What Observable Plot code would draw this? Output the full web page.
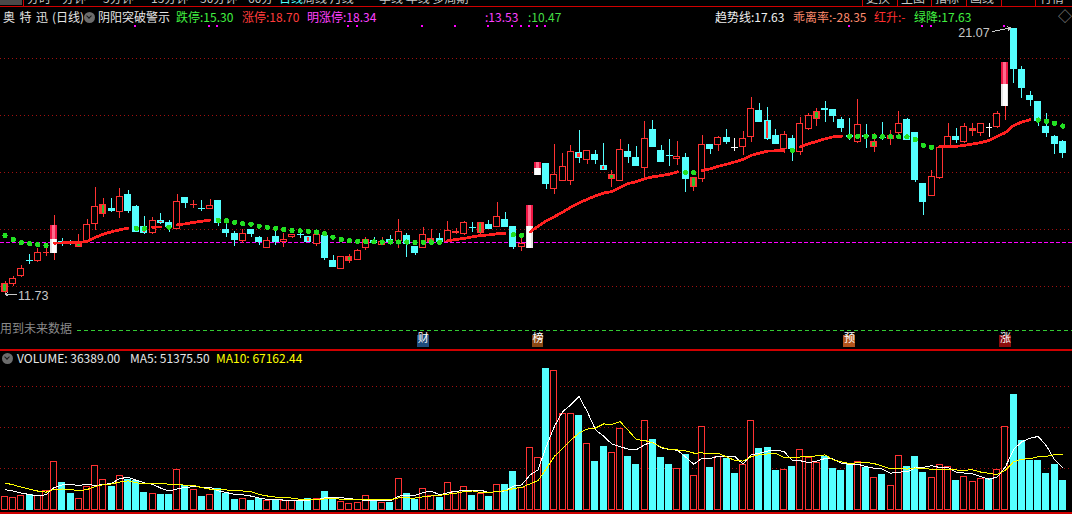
<!DOCTYPE html>
<html lang="zh-CN">
<head>
<meta charset="utf-8">
<title>奥特迅(日线)</title>
<script src="https://cdn.jsdelivr.net/npm/d3@7"></script>
<script src="https://cdn.jsdelivr.net/npm/@observablehq/plot@0.6"></script>
<style>
  html, body { margin: 0; padding: 0; background: #000; }
  #screen { position: relative; width: 1072px; height: 514px; overflow: hidden; background: #000;
    font-family: "Noto Sans CJK SC", "Noto Sans", sans-serif; font-size: 12px; line-height: 14px; }
  #screen svg { position: absolute; left: 0; }
  .t { position: absolute; white-space: nowrap; }
  .hline { position: absolute; left: 0; width: 1072px; background: #d00000; }
  .vline { position: absolute; top: 0; width: 1px; height: 6px; background: #d00000; }
  .icon { position: absolute; width: 11px; height: 11px; border-radius: 50%; background: #6c6c6c; }
  .icon::after { content: ""; position: absolute; left: 3.2px; top: 2.2px; width: 3px; height: 3px;
    border-right: 1.5px solid #161616; border-bottom: 1.5px solid #161616; transform: rotate(45deg); }
  #menu { position: absolute; left: 0; top: 0; width: 1072px; height: 6px; overflow: hidden; }
  #menu span { position: absolute; top: -9px; color: #c8c8c8; white-space: nowrap; }
</style>
</head>
<body>
<div id="screen">
  <div id="menu"></div>
  <div class="hline" style="top:6px;height:1px"></div>
  <div id="header"></div>
  <div class="t" id="future" style="left:0;top:321px;color:#8a8a8a;background:#000;padding-right:2px">用到未来数据</div>
  <div class="hline" style="top:349px;height:1.5px"></div>
  <div id="volHeader"></div>
  <div class="hline" style="top:512px;height:1.5px"></div>
</div>
<script>
// Daily bars, oldest first
const opens = [11.79,12.08,12.36,12.95,12.88,13.18,13.17,13.58,13.54,13.38,
  13.55,14.16,14.54,14.74,14.59,15.23,14.81,14.11,13.85,14.32,
  14.24,14.01,15.12,14.87,14.74,14.71,15.02,14.00,13.85,13.59,
  14.00,13.73,13.34,13.75,13.54,13.71,13.82,13.75,13.46,13.79,
  12.91,12.61,12.88,12.92,13.34,13.61,13.45,13.64,13.59,13.79,
  13.40,13.34,13.53,13.67,13.55,13.87,13.81,14.09,13.85,14.18,
  14.08,14.35,14.11,13.38,13.34,15.91,16.32,15.40,15.69,15.69,
  16.71,16.42,16.63,16.25,15.75,15.69,16.74,16.53,16.15,17.51,
  16.77,16.60,16.47,16.53,15.46,15.75,16.98,16.96,17.23,16.87,
  16.87,17.24,18.18,17.82,17.30,16.80,17.18,16.69,17.50,17.86,
  18.26,18.21,17.86,17.30,17.04,17.30,16.89,17.25,17.15,17.36,
  17.85,17.39,15.60,15.17,15.78,16.91,17.26,17.04,17.45,17.38,
  17.57,17.57,18.33,21.05,19.61,18.70,18.49,17.61,17.26,17.09];
const highs = [12.18,12.35,12.74,13.12,13.32,13.41,14.49,13.68,13.61,13.82,
  14.34,15.48,15.09,15.09,15.45,15.37,14.83,14.46,14.42,14.57,
  14.32,15.23,15.13,15.02,15.02,15.05,15.03,14.26,13.94,13.99,
  14.01,13.74,13.73,13.96,13.85,13.83,13.96,13.76,13.96,13.80,
  13.09,13.05,13.12,13.30,13.72,13.71,13.73,13.79,14.35,13.85,
  13.41,14.07,14.00,13.85,14.29,14.05,14.29,14.25,14.26,14.32,
  14.95,14.60,14.12,13.73,14.85,16.34,16.33,16.98,16.67,16.95,
  17.47,16.77,16.77,17.03,16.07,17.16,16.98,16.91,17.79,17.82,
  16.95,17.15,17.09,16.66,15.82,17.30,16.99,17.27,17.51,17.18,
  17.44,18.62,18.41,18.27,17.50,17.44,17.30,17.94,18.06,18.26,
  18.49,18.22,17.94,17.88,18.56,17.68,17.36,17.76,17.47,18.14,
  17.88,17.40,15.61,16.07,16.95,17.71,17.55,17.71,17.71,17.72,
  17.71,18.15,19.87,21.07,19.72,18.85,18.50,18.06,17.30,17.12];
const lows = [11.73,12.00,12.33,12.78,12.84,13.05,12.91,13.40,13.44,13.37,
  13.54,13.96,14.42,14.59,14.38,14.55,13.89,13.82,13.82,14.16,
  13.88,14.00,14.73,14.75,14.63,14.70,14.12,13.73,13.41,13.50,
  13.73,13.44,13.33,13.44,13.38,13.70,13.67,13.53,13.41,12.91,
  12.67,12.60,12.80,12.91,13.26,13.50,13.44,13.52,13.32,13.03,
  13.09,13.33,13.52,13.50,13.54,13.82,13.80,13.91,13.84,13.99,
  14.07,14.07,13.29,13.24,13.33,15.90,15.40,15.23,15.68,15.54,
  16.33,16.28,16.28,16.06,15.46,15.68,16.33,16.20,15.81,16.88,
  16.35,16.21,16.25,15.29,15.34,15.66,16.63,16.75,16.97,16.75,
  16.60,17.06,17.74,17.12,16.97,16.66,16.40,16.60,17.49,17.61,
  17.76,17.74,17.41,17.12,17.03,16.83,16.71,17.12,16.95,17.16,
  17.11,15.66,14.49,15.16,15.77,16.90,17.03,17.03,17.27,17.27,
  17.24,17.56,17.82,19.13,18.61,18.32,17.61,17.24,16.63,16.50];
const closes = [12.09,12.27,12.62,12.91,13.19,13.19,14.14,13.47,13.47,13.53,
  14.18,14.81,14.88,14.63,15.16,14.63,13.91,13.87,14.32,14.22,
  14.08,14.98,14.92,14.88,14.73,14.84,14.22,13.87,13.61,13.85,
  13.82,13.53,13.61,13.53,13.65,13.82,13.81,13.54,13.82,12.99,
  12.68,13.04,13.05,13.26,13.64,13.52,13.58,13.54,13.93,13.46,
  13.17,13.81,13.67,13.55,13.96,13.94,14.24,14.08,14.25,14.00,
  14.46,14.08,13.38,13.50,14.85,16.34,15.58,15.93,16.21,16.74,
  16.50,16.76,16.43,16.07,15.93,16.80,16.54,16.21,17.18,16.89,
  16.36,16.59,16.56,15.74,15.81,16.97,16.81,17.23,17.06,16.87,
  17.18,18.24,17.75,17.17,16.98,17.33,16.80,17.71,18.00,18.14,
  18.19,17.98,17.55,17.24,17.67,17.24,17.09,17.23,17.30,17.71,
  17.12,15.72,14.96,15.85,16.89,17.26,17.12,17.61,17.55,17.71,
  17.57,18.06,19.87,19.61,18.96,18.53,17.80,17.36,17.00,16.67];
const volumes = [16600,15400,17800,19000,17800,23900,59100,33600,20300,14200,
  28700,54200,37200,29100,42100,37200,36000,21500,20300,19000,
  19000,49400,30000,25100,16600,19000,26300,20300,13000,14200,
  11800,14200,11800,11800,11800,11800,11800,14200,14200,22700,
  14200,10600,8100,9300,17500,11800,9000,9300,38100,20300,
  13300,26000,17800,15800,33200,22700,28400,17800,20300,16600,
  30800,31200,46900,27500,75700,63600,171900,169100,116900,116900,
  114900,80500,59100,77300,69600,99100,65100,55400,108400,85800,
  63900,55400,50200,67600,41700,101200,51800,65500,62700,44500,
  55100,108400,74800,76100,48200,49400,53000,73300,63900,57900,
  65100,50600,48200,55400,59100,51800,39700,43300,30000,66400,
  53000,65100,45700,39700,55400,53000,36000,40900,34800,38500,
  38000,48800,102000,140900,85046.9,59700,59700,45100,55988.5,36389];
// Sessions just before the first bar, used only to seed the volume averages
const volumesBefore = [38000,46000,44000,40000,37400,24000,30000,28000,26000];
// 趋势线 indicator value per bar
const trendLine = [13.79,13.65,13.54,13.50,13.47,13.44,13.52,13.53,13.54,13.55,
  13.58,13.72,13.84,13.92,13.99,14.05,14.04,14.03,14.08,14.09,
  14.08,14.16,14.20,14.25,14.29,14.33,14.32,14.30,14.25,14.20,
  14.19,14.12,14.08,14.04,14.00,13.96,13.95,13.93,13.91,13.85,
  13.73,13.65,13.61,13.58,13.57,13.57,13.56,13.56,13.56,13.56,
  13.55,13.55,13.55,13.55,13.61,13.65,13.69,13.74,13.79,13.81,
  13.85,13.87,13.82,13.79,13.91,14.11,14.30,14.45,14.61,14.78,
  14.93,15.06,15.18,15.28,15.33,15.47,15.61,15.68,15.78,15.85,
  15.89,15.94,16.02,16.00,15.99,16.07,16.13,16.22,16.29,16.37,
  16.46,16.60,16.68,16.75,16.76,16.78,16.78,16.91,17.01,17.09,
  17.18,17.25,17.27,17.27,17.27,17.27,17.26,17.26,17.26,17.25,
  17.25,17.16,16.95,16.89,16.90,16.91,16.92,16.95,17.00,17.05,
  17.12,17.27,17.40,17.65,17.77,17.85,17.84,17.80,17.73,17.63];
// Bars flagged by the 阴阳突破 study
const redGreenBars = [0,9,12,42,52,55,58,74,84,99,106,108,118];
const cyanRedBars = [17,19,37,70,73,93];
const signalBars = [6,64,65,122];
const alertBars = [16,25,26,42,43,51,55,59,62,63,64,65,66,103,112,113,122];
const eventBars = [51,65,103,122];
const eventLabels = ["财","榜","预","涨"];
const supportLevel = 13.53;
const floorLevel = 10.47;
const biasRate = -28.35;
const priceGrid = [12,14,16,18,20];
const volumeGrid = [50000,100000,150000];

const RED = "#ff3232", CYAN = "#54ffff", WHITE = "#ffffff", STRIPE_GREEN = "#2fc02f";
const GRID = "#a01010", TREND_RED = "#ff2020", DOT_GREEN = "#22e022";
const eventColors = {"财": "#1d4c7c", "榜": "#8a4813", "预": "#b2531c", "涨": "#8a0c0c"};

const n = closes.length;
const bars = d3.range(n).map(i => ({i, open: opens[i], high: highs[i], low: lows[i], close: closes[i], volume: volumes[i]}));
const rising = d => d.close > d.open || (d.close === d.open && d.i > 0 && d.close >= closes[d.i - 1]);
const candleColor = d => d.close === d.open ? WHITE : rising(d) ? RED : CYAN;
const rgSet = new Set(redGreenBars), crSet = new Set(cyanRedBars), sigSet = new Set(signalBars);
const plain = bars.filter(d => !sigSet.has(d.i));
const solid = plain.filter(d => Math.abs(d.close - d.open) >= 0.05);
const thin = plain.filter(d => Math.abs(d.close - d.open) < 0.05);
const signals = bars.filter(d => sigSet.has(d.i)).map(d => ({...d, mid: (d.open + d.close) / 2}));
const W = 0.42; // half body width in bar units

// trend: red runs while rising, green dots otherwise
let run = 0;
const trendPts = trendLine.map((v, i) => {
  const up = i > 0 && v > trendLine[i - 1];
  if (!up) run++;
  return {i, v, up, run};
});

const maxBar = bars.reduce((a, b) => b.high > a.high ? b : a);
const minBar = bars.reduce((a, b) => b.low < a.low ? b : a);
const events = eventBars.map((i, k) => ({i, label: eventLabels[k]}));

const xScale = {domain: [0, n - 1], range: [4.5, 4.5 + 8.2 * (n - 1)], axis: null};

const main = Plot.plot({
  width: 1072, height: 348, margin: 0,
  x: xScale,
  y: {domain: [12, 20], range: [286, 58], axis: null},
  color: {type: "identity"},
  style: {background: "transparent", overflow: "visible"},
  marks: [
    Plot.ruleY(priceGrid, {stroke: GRID, strokeDasharray: "1,3"}),
    Plot.ruleY([supportLevel], {stroke: "#ff00ff", strokeDasharray: "4,2"}),
    Plot.ruleY([floorLevel], {stroke: "#33cc33", strokeDasharray: "4,3"}),
    // wicks
    Plot.ruleX(bars, {x: "i", y1: "low", y2: "high", stroke: d => sigSet.has(d.i) ? RED : candleColor(d)}),
    // bodies
    Plot.rect(solid, {x1: d => d.i - W, x2: d => d.i + W, y1: "open", y2: "close", inset: 0.5,
      fill: d => rgSet.has(d.i) ? RED : rising(d) ? "#000000" : CYAN, stroke: candleColor}),
    Plot.link(thin, {x1: d => d.i - W, x2: d => d.i + W, y1: "close", y2: "close", stroke: candleColor}),
    Plot.rect(solid.filter(d => rgSet.has(d.i)), {x1: d => d.i - 0.17, x2: d => d.i + 0.17, y1: "open", y2: "close",
      insetTop: 1, insetBottom: 1, fill: STRIPE_GREEN}),
    Plot.rect(solid.filter(d => crSet.has(d.i)), {x1: d => d.i - 0.17, x2: d => d.i + 0.17, y1: "open", y2: "close",
      insetTop: 1, insetBottom: 1, fill: RED}),
    // signal bars: upper half red, lower half white
    Plot.rect(signals, {x1: d => d.i - W, x2: d => d.i + W, y1: "mid", y2: "close", fill: "#f01644"}),
    Plot.rect(signals, {x1: d => d.i - 0.18, x2: d => d.i + 0.18, y1: "mid", y2: "close", fill: "#ff6a8c"}),
    Plot.rect(signals, {x1: d => d.i - W, x2: d => d.i + W, y1: "open", y2: "mid", fill: "#e6e6e6"}),
    Plot.rect(signals, {x1: d => d.i - 0.25, x2: d => d.i + 0.25, y1: "open", y2: "mid", fill: "#ffffff"}),
    // trend line
    Plot.line(trendPts.filter(d => d.up), {x: "i", y: "v", z: "run", stroke: TREND_RED, strokeWidth: 2.8}),
    Plot.dot(trendPts.filter(d => !d.up), {x: "i", y: "v", r: 2.6, fill: DOT_GREEN}),
    // alert ticks along the top
    Plot.dot(alertBars, {x: d => d, frameAnchor: "top", dx: -1, dy: 25.5, symbol: "square", r: 1.2, fill: "#ff00ff"}),
    // event badges
    Plot.rect(events, {x1: d => d.i - 0.72, x2: d => d.i + 0.72, insetTop: 335, insetBottom: 1, fill: d => eventColors[d.label]}),
    Plot.text(events, {x: "i", text: "label", frameAnchor: "bottom", dy: -7, fill: "#ffffff", fontSize: 11,
      fontFamily: "Noto Sans CJK SC"}),
    // extreme labels
    Plot.text([maxBar], {x: "i", y: "high", text: d => d.high.toFixed(2), dx: -24, dy: 4.5, textAnchor: "end",
      fill: "#c8c8c8", fontSize: 12.5, fontFamily: "Liberation Sans"}),
    Plot.arrow([maxBar], {x1: d => d.i - 2.55, y1: d => d.high - 0.12, x2: d => d.i - 0.35, y2: "high",
      stroke: "#c8c8c8", strokeWidth: 1, headLength: 5}),
    Plot.text([minBar], {x: "i", y: "low", text: d => d.low.toFixed(2), dx: 13, dy: 2, textAnchor: "start",
      fill: "#c8c8c8", fontSize: 12.5, fontFamily: "Liberation Sans"}),
    Plot.arrow([minBar], {x1: d => d.i + 1.45, y1: "low", x2: "i", y2: "low",
      stroke: "#c8c8c8", strokeWidth: 1, headLength: 5})
  ]
});
main.style.top = "0px";
main.setAttribute("shape-rendering", "crispEdges");

// volume averages seeded with the preceding sessions
const allVolumes = volumesBefore.concat(volumes);
const off = volumesBefore.length;
const movingAverage = k => volumes.map((_, i) => ({i, value: d3.mean(allVolumes.slice(i + off - k + 1, i + off + 1))}));
const ma5 = movingAverage(5), ma10 = movingAverage(10);

const vol = Plot.plot({
  width: 1072, height: 164, margin: 0,
  x: xScale,
  y: {domain: [0, 150000], range: [159.7, 36], axis: null},
  color: {type: "identity"},
  style: {background: "transparent", overflow: "visible"},
  marks: [
    Plot.ruleY(volumeGrid, {stroke: GRID, strokeDasharray: "1,3"}),
    Plot.rect(bars, {x1: d => d.i - W, x2: d => d.i + W, y1: 0, y2: "volume", inset: 0.5,
      fill: d => rising(d) ? "#000000" : CYAN, stroke: d => rising(d) ? RED : CYAN}),
    Plot.line(ma5, {x: "i", y: "value", stroke: "#ffffff", strokeWidth: 1}),
    Plot.line(ma10, {x: "i", y: "value", stroke: "#ffff00", strokeWidth: 1})
  ]
});
vol.style.top = "350px";
vol.setAttribute("shape-rendering", "crispEdges");

const screen = document.getElementById("screen");
screen.insertBefore(vol, screen.firstChild);
screen.insertBefore(main, screen.firstChild);

// header lines
function put(parent, left, top, text, color, extra) {
  const el = document.createElement("div");
  el.className = "t";
  el.style.left = left + "px";
  el.style.top = top + "px";
  el.style.color = color;
  if (extra) Object.assign(el.style, extra);
  el.textContent = text;
  parent.appendChild(el);
  return el;
}
function icon(parent, left, top) {
  const el = document.createElement("div");
  el.className = "icon";
  el.style.left = left + "px";
  el.style.top = top + "px";
  parent.appendChild(el);
}

const last = n - 1;
const prevClose = closes[last - 1];
const trendNow = trendPts[last];
const header = document.getElementById("header");
put(header, 3, 10, "奥特迅", "#e6e6e6", {letterSpacing: "4.5px"});
put(header, 52, 10, "(日线)", "#e6e6e6");
icon(header, 84, 12);
put(header, 98, 10, "阴阳突破警示", "#e6e6e6");
put(header, 176, 10, "跌停:" + (prevClose * 0.9).toFixed(2), "#40f040");
put(header, 242, 10, "涨停:" + (prevClose * 1.1).toFixed(2), "#ff3c3c");
put(header, 307, 10, "明涨停:" + (closes[last] * 1.1).toFixed(2), "#ff40ff");
put(header, 485, 10, ":" + supportLevel.toFixed(2), "#ff40ff");
put(header, 528, 10, ":" + floorLevel.toFixed(2), "#44dd44");
put(header, 715, 10, "趋势线:" + trendNow.v.toFixed(2), "#f0f0f0");
put(header, 793, 10, "乖离率:" + biasRate.toFixed(2), "#ff8c6e");
put(header, 874, 10, "红升:" + (trendNow.up ? trendNow.v.toFixed(2) : "-"), "#ff3030");
put(header, 914, 10, "绿降:" + (trendNow.up ? "-" : trendNow.v.toFixed(2)), "#40f040");
put(header, 1058, 8, "◇", "#8a8a8a", {fontSize: "14px"});

const volHeader = document.getElementById("volHeader");
icon(volHeader, 2, 353);
put(volHeader, 17, 351, "VOLUME: " + volumes[last].toFixed(2), "#e6e6e6");
put(volHeader, 130, 351, "MA5: " + ma5[last].value.toFixed(2), "#e6e6e6");
put(volHeader, 216, 351, "MA10: " + ma10[last].value.toFixed(2), "#ffff00");

// toolbar strip, only its lower edge is on screen
const menu = document.getElementById("menu");
const box = document.createElement("div");
Object.assign(box.style, {position: "absolute", left: "0px", top: "0px", width: "22px", height: "5px", background: "#4a4a4a"});
menu.appendChild(box);
[[27,"分时"],[62,"分钟"],[103,"5分钟"],[151,"15分钟"],[200,"30分钟"],[248,"60分"],[279,"日线"],[303,"周线 月线"],[379,"季线 年线 多周期"],
 [866,"更换"],[901,"主图"],[935,"指标"],[970,"画线"],[1040,"行情"]]
  .forEach(([x, s]) => {
    const sp = document.createElement("span");
    sp.style.left = x + "px";
    if (s === "日线") sp.style.color = "#54ffff";
    sp.textContent = s;
    menu.appendChild(sp);
  });
[23, 862, 897, 931, 966, 1001, 1035].forEach(x => {
  const v = document.createElement("div");
  v.className = "vline";
  v.style.left = x + "px";
  screen.appendChild(v);
});
</script>
</body>
</html>
